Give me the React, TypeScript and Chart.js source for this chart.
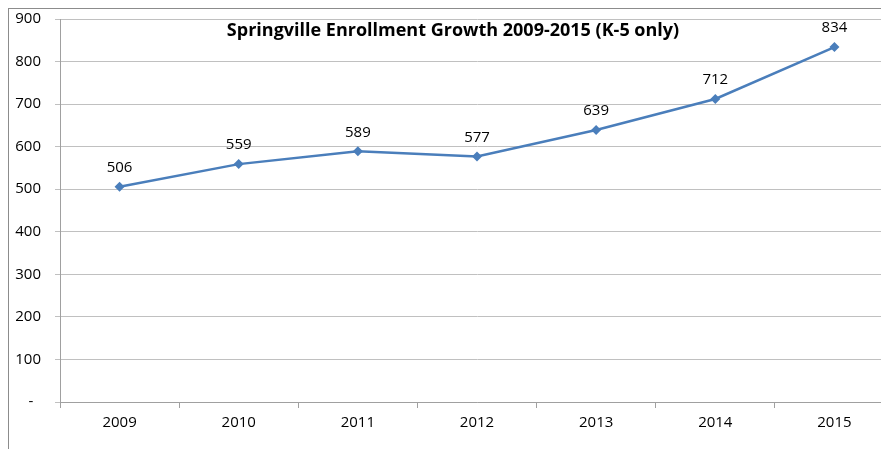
import React, { useEffect, useRef } from "react";
import { Chart, registerables } from "chart.js";

Chart.register(...registerables);

const years: string[] = ["2009", "2010", "2011", "2012", "2013", "2014", "2015"];
const enrollment: number[] = [506, 559, 589, 577, 639, 712, 834];
const chartTitle = "Springville Enrollment Growth 2009-2015 (K-5 only)";
const yMin = 0;
const yMax = 900;
const yStep = 100;

const FONT = "'Open Sans', 'Noto Sans', sans-serif";

const titlePlugin = {
  id: "overlayTitle",
  afterDraw(chart: any) {
    const ctx = chart.ctx;
    ctx.save();
    ctx.font = `bold 18px ${FONT}`;
    ctx.fillStyle = "#000";
    ctx.textAlign = "center";
    ctx.textBaseline = "middle";
    ctx.fillText(chartTitle, 444, 22);
    ctx.restore();
  },
};

const labelPlugin = {
  id: "pointLabels",
  afterDatasetsDraw(chart: any) {
    const ctx = chart.ctx;
    const meta = chart.getDatasetMeta(0);
    ctx.save();
    ctx.font = `15px ${FONT}`;
    ctx.fillStyle = "#000";
    ctx.textAlign = "center";
    ctx.textBaseline = "middle";
    meta.data.forEach((pt: any, i: number) => {
      ctx.fillText(String(enrollment[i]), pt.x, pt.y - 19);
    });
    ctx.restore();
  },
};

export default function App() {
  const ref = useRef<HTMLCanvasElement>(null);
  useEffect(() => {
    if (!ref.current) return;
    const chart = new Chart(ref.current, {
      type: "line",
      data: {
        labels: years,
        datasets: [
          {
            data: enrollment,
            borderColor: "#4a7ebb",
            backgroundColor: "#4a7ebb",
            borderWidth: 2.5,
            pointStyle: "rectRot",
            pointRadius: 5,
            pointBorderWidth: 0,
            tension: 0,
          },
        ],
      },
      options: {
        animation: false,
        responsive: false,
        devicePixelRatio: 1,
        layout: { padding: { top: 10, right: 15, left: 0, bottom: 0 } },
        plugins: { legend: { display: false }, title: { display: false }, tooltip: { enabled: false } },
        scales: {
          x: {
            offset: true,
            afterFit(scale: any) {
              scale.height = 57;
              scale.paddingLeft = 0;
              scale.paddingRight = 0;
            },
            grid: {
              offset: true,
              drawOnChartArea: false,
              drawTicks: true,
              tickLength: 6,
              color: "#a0a0a0",
            },
            border: { color: "#a0a0a0" },
            ticks: { color: "#000", font: { family: FONT, size: 15 }, padding: 6, maxRotation: 0 },
          },
          y: {
            min: yMin,
            max: yMax,
            afterFit(scale: any) {
              scale.width = 51;
              scale.paddingTop = 0;
              scale.paddingBottom = 0;
            },
            grid: { color: "#c0c0c0", tickLength: 5, lineWidth: 1 },
            border: { color: "#a0a0a0" },
            ticks: {
              stepSize: yStep,
              color: "#000",
              font: { family: FONT, size: 15 },
              padding: 14,
              callback: (v: any) => (v === 0 ? "-  " : String(v)),
            },
          },
        },
      },
      plugins: [titlePlugin, labelPlugin],
    });
    return () => chart.destroy();
  }, []);
  return (
    <div style={{ width: 881, height: 441, overflow: "hidden" }}>
      <div style={{ width: 900, height: 460, border: "1px solid #8c8c8c" }}>
        <canvas ref={ref} width={900} height={450} style={{ display: "block" }} />
      </div>
    </div>
  );
}
